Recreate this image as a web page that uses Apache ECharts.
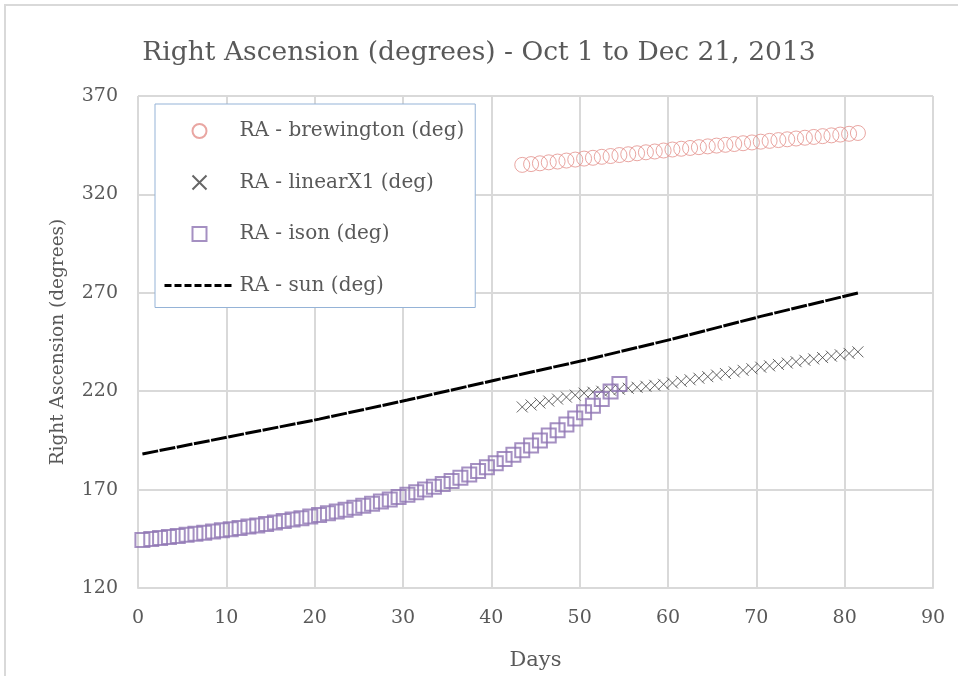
<!DOCTYPE html>
<html lang="en">
  <head>
    <meta charset="UTF-8" />
    <title>Right Ascension</title>
    <script src="https://cdn.jsdelivr.net/npm/echarts@6/dist/echarts.min.js"></script>
  </head>
  <style>
    body,
    html {
      margin: 0;
      height: 100%;
      background: #fff;
    }
  </style>
  <body>
    <div id="chart" style="width:958px;height:676px"></div>
  </body>
  <script>
    // days are offset by half a day (noon of each date)
    var brewDays = [43.5, 44.5, 45.5, 46.5, 47.5, 48.5, 49.5, 50.5, 51.5, 52.5, 53.5, 54.5, 55.5, 56.5, 57.5, 58.5, 59.5, 60.5, 61.5, 62.5, 63.5, 64.5, 65.5, 66.5, 67.5, 68.5, 69.5, 70.5, 71.5, 72.5, 73.5, 74.5, 75.5, 76.5, 77.5, 78.5, 79.5, 80.5, 81.5];
    var brewRA = [335.0, 335.4, 335.8, 336.3, 336.7, 337.2, 337.7, 338.2, 338.6, 339.1, 339.5, 340.0, 340.4, 340.9, 341.4, 341.8, 342.3, 342.8, 343.2, 343.6, 344.0, 344.4, 344.8, 345.2, 345.6, 346.0, 346.4, 346.8, 347.2, 347.6, 348.0, 348.4, 348.8, 349.2, 349.6, 350.0, 350.4, 350.8, 351.2];

    var linearDays = brewDays;
    var linearRA = [212.0, 213.0, 214.0, 215.0, 216.0, 217.0, 218.0, 219.0, 219.5, 220.0, 220.5, 221.0, 221.5, 222.0, 222.5, 223.0, 223.5, 224.2, 225.0, 225.8, 226.6, 227.4, 228.2, 229.0, 229.8, 230.6, 231.4, 232.2, 232.9, 233.6, 234.3, 235.0, 235.7, 236.4, 237.1, 237.8, 238.5, 239.2, 240.0];

    var isonDays = [0.5, 1.5, 2.5, 3.5, 4.5, 5.5, 6.5, 7.5, 8.5, 9.5, 10.5, 11.5, 12.5, 13.5, 14.5, 15.5, 16.5, 17.5, 18.5, 19.5, 20.5, 21.5, 22.5, 23.5, 24.5, 25.5, 26.5, 27.5, 28.5, 29.5, 30.5, 31.5, 32.5, 33.5, 34.5, 35.5, 36.5, 37.5, 38.5, 39.5, 40.5, 41.5, 42.5, 43.5, 44.5, 45.5, 46.5, 47.5, 48.5, 49.5, 50.5, 51.5, 52.5, 53.5, 54.5];
    var isonRA = [144.4, 144.9, 145.4, 145.9, 146.4, 147.0, 147.6, 148.1, 148.7, 149.3, 149.9, 150.5, 151.2, 151.8, 152.5, 153.3, 154.0, 154.8, 155.5, 156.3, 157.1, 158.0, 158.9, 159.8, 160.8, 161.8, 162.8, 163.9, 165.0, 166.2, 167.4, 168.7, 170.0, 171.4, 172.9, 174.4, 176.0, 177.7, 179.5, 181.4, 183.4, 185.5, 187.7, 190.0, 192.4, 194.9, 197.5, 200.2, 203.1, 206.1, 209.3, 212.6, 216.1, 219.8, 223.7];

    var sunDays = [0.5, 10.5, 20.5, 30.5, 40.5, 50.5, 60.5, 70.5, 81.5];
    var sunRA = [188.1, 197.0, 205.8, 215.5, 225.7, 235.7, 246.5, 258.0, 269.9];

    var seriesNames = ["RA - brewington (deg)", "RA - linearX1 (deg)", "RA - ison (deg)", "RA - sun (deg)"];

    function pairs(xs, ys) {
      return xs.map(function(x, i) {
        return [x, ys[i]];
      });
    }

    var font = "DejaVu Serif";
    var grey = "#595959";
    var square = "path://M0,0H10V10H0Z";

    var option = {
      animation: false,
      backgroundColor: "#fff",
      textStyle: { fontFamily: font },
      title: {
        text: "Right Ascension (degrees) - Oct 1 to Dec 21, 2013",
        left: "center",
        top: 35,
        textStyle: { fontFamily: font, fontSize: 26.5, fontWeight: "normal", color: grey }
      },
      graphic: [
        {
          type: "polyline",
          shape: { points: [[5, 676], [5, 5], [958, 5]] },
          style: { stroke: "#d9d9d9", lineWidth: 2, fill: null }
        }
      ],
      grid: { left: 138, right: 25, top: 96, bottom: 88, outerBoundsMode: "none" },
      legend: {
        orient: "vertical",
        left: 155,
        top: 104,
        padding: [17, 11, 12, 8],
        itemWidth: 70,
        itemHeight: 14,
        itemGap: 31.5,
        symbolKeepAspect: true,
        borderColor: "#95b3d7",
        borderWidth: 1,
        backgroundColor: "#fff",
        textStyle: { fontFamily: font, fontSize: 20, color: grey },
        data: [
          { name: seriesNames[0] },
          { name: seriesNames[1] },
          { name: seriesNames[2] },
          { name: seriesNames[3], itemStyle: { opacity: 0 }, lineStyle: { type: [7, 3], width: 3, color: "#000" } }
        ]
      },
      xAxis: {
        type: "value",
        min: 0,
        max: 90,
        interval: 10,
        name: "Days",
        nameLocation: "middle",
        nameGap: 62,
        nameTextStyle: { fontFamily: font, fontSize: 21, color: grey },
        axisLine: { lineStyle: { color: "#d9d9d9", width: 2 } },
        axisTick: { show: false },
        axisLabel: { fontFamily: font, fontSize: 19, color: grey, margin: 21 },
        splitLine: { show: true, lineStyle: { color: "#d9d9d9", width: 2 } }
      },
      yAxis: {
        type: "value",
        min: 120,
        max: 370,
        interval: 50,
        name: "Right Ascension (degrees)",
        nameLocation: "middle",
        nameGap: 70,
        nameTextStyle: { fontFamily: font, fontSize: 18.5, color: grey },
        axisLine: { show: false },
        axisTick: { show: false },
        axisLabel: { fontFamily: font, fontSize: 19, color: grey, margin: 20 },
        splitLine: { show: true, lineStyle: { color: "#d9d9d9", width: 2 } }
      },
      series: [
        {
          name: seriesNames[0],
          type: "scatter",
          symbol: "circle",
          symbolSize: 15,
          itemStyle: { color: "transparent", borderColor: "#e3908b", borderWidth: 1 },
          data: pairs(brewDays, brewRA)
        },
        {
          name: seriesNames[1],
          type: "scatter",
          symbol: "path://M0,0L10,10M10,0L0,10",
          symbolSize: 11,
          itemStyle: { color: "transparent", borderColor: "#404040", borderWidth: 1 },
          data: pairs(linearDays, linearRA)
        },
        {
          name: seriesNames[2],
          type: "scatter",
          symbol: square,
          symbolSize: 14,
          itemStyle: { color: "transparent", borderColor: "#8f74b3", borderWidth: 2 },
          data: pairs(isonDays, isonRA)
        },
        {
          name: seriesNames[3],
          type: "line",
          symbol: "none",
          lineStyle: { color: "#000", width: 3, type: [16, 1.5] },
          data: pairs(sunDays, sunRA)
        }
      ]
    };

    var chart = echarts.init(document.getElementById("chart"));
    chart.setOption(option);
  </script>
</html>
